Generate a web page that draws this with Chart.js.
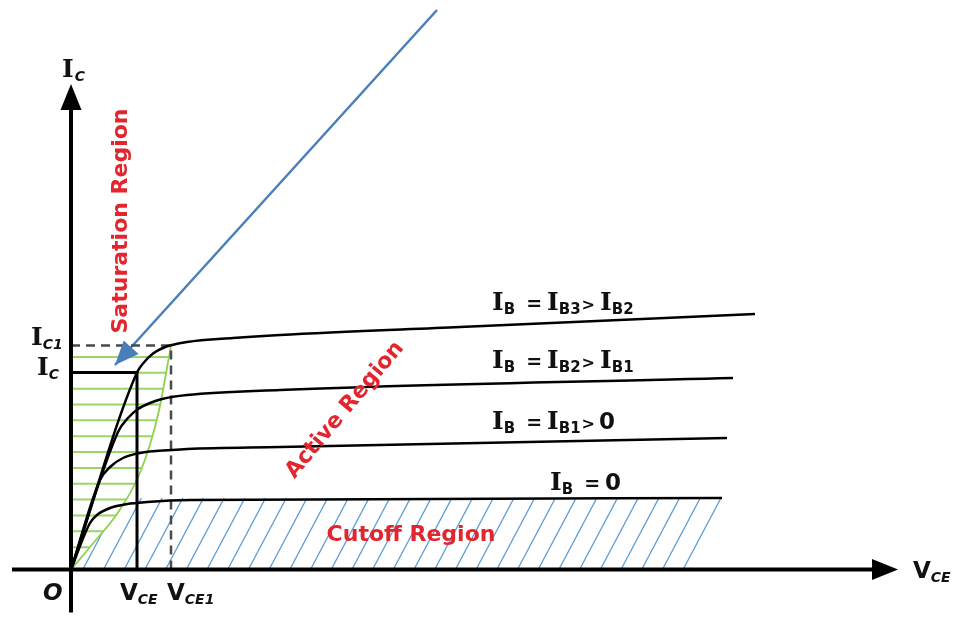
<!DOCTYPE html>
<html>
<head>
<meta charset="utf-8">
<script src="https://cdn.jsdelivr.net/npm/chart.js@4"></script>
<style>body{margin:0;background:#fff}</style>
</head>
<body>
<canvas id="bjt" width="956" height="629"></canvas>
<script>
// BJT output characteristics: V_CE on x, I_C on y (arbitrary units)
const curveIB0 = [[0,0],[1.9,4.65],[2.6,5.45],[3.9,6.15],[5.6,6.55],[7.6,6.75],[11.9,6.95],[65.1,7.15]];
const curveIB1 = [[0,0],[2.9,8.95],[3.9,10.25],[5.2,11.15],[6.9,11.65],[10.1,11.95],[11.6,12.05],[20.9,12.25],[65.6,13.15]];
const curveIB2 = [[0,0],[4.7,13.75],[5.7,15.15],[6.7,16.05],[7.9,16.65],[9.1,17.05],[11.6,17.45],[20.9,17.95],[66.2,19.15]];
const curveIB3 = [[0,0],[6.6,19.7],[7.2,20.6],[8.2,21.6],[9.3,22.2],[10.1,22.45],[11.6,22.75],[16.2,23.15],[20.9,23.45],[38.9,24.25],[68.4,25.55]];
const satEdge = [[0,0],[2.2,2.6],[4.7,5.7],[6.6,9.0],[7.9,12.5],[8.8,15.9],[9.5,19.6],[10.0,22.4]];

// operating points
const vCE = 6.6, iC = 19.7;
const vCE1 = 10.0, iC1 = 22.4;
// cutoff band (top of I_B = 0 line, right end)
const iCutoff = 7.15, cutoffEnd = 65.0;

// axes and pointer arrow
const xAxisLine = [[-5.9,0],[80.1,0]];
const yAxisLine = [[0,-4.3],[0,45.95]];
const pointerLine = [[36.6,55.95],[4.4,20.45]];

const xMin = -7.1, xMax = 88.5, yMin = -5.95, yMax = 56.95;

const toXY = arr => arr.map(p => ({x: p[0], y: p[1]}));
const RED = '#e3252d';
const fI = 'bold 25px "DejaVu Serif"';
const fMain = 'bold 23px "DejaVu Sans"';
const fOp = 'bold 19px "DejaVu Sans"';
const fGt = 'bold 16px "DejaVu Sans"';
const fSub = 'bold 15px "DejaVu Sans"';
const fSubI = 'italic bold 14px "DejaVu Sans"';
const fRed = 'bold 22px "DejaVu Sans"';

function curve(data) {
  return {data: toXY(data), borderColor: '#000', borderWidth: 2.5, cubicInterpolationMode: 'monotone'};
}

const datasets = [
  {data: toXY(xAxisLine), borderColor: '#000', borderWidth: 4},
  {data: toXY(yAxisLine), borderColor: '#000', borderWidth: 4},
  curve(curveIB0), curve(curveIB1), curve(curveIB2), curve(curveIB3),
  {data: toXY([[0,iC],[vCE,iC],[vCE,0]]), borderColor: '#000', borderWidth: 3},
  {data: toXY([[0,iC1],[vCE1,iC1],[vCE1,0]]), borderColor: '#4a4a4a', borderWidth: 2.5, borderDash: [9,6]},
  {data: toXY(pointerLine), borderColor: '#4a7ebb', borderWidth: 2.5},
  {data: toXY(satEdge), borderColor: '#8fd14f', borderWidth: 1.8, cubicInterpolationMode: 'monotone'}
];
const EDGE = datasets.length - 1;

function px(chart, x, y) {
  return [chart.scales.x.getPixelForValue(x), chart.scales.y.getPixelForValue(y)];
}

function head(ctx, tip, ux, uy, len, half, color) {
  const bx = tip[0] - ux * len, by = tip[1] - uy * len;
  ctx.beginPath();
  ctx.moveTo(tip[0], tip[1]);
  ctx.lineTo(bx - uy * half, by + ux * half);
  ctx.lineTo(bx + uy * half, by - ux * half);
  ctx.closePath();
  ctx.fillStyle = color;
  ctx.fill();
}

function rich(ctx, x, y, runs) {
  ctx.textAlign = 'left';
  ctx.textBaseline = 'alphabetic';
  ctx.fillStyle = '#111';
  for (const [t, font, dy = 0, gap = 0] of runs) {
    ctx.font = font;
    x += gap;
    ctx.fillText(t, x, y + dy);
    x += ctx.measureText(t).width;
  }
}

function label(ctx, chart, text, x, y, rot) {
  const [cx, cy] = px(chart, x, y);
  ctx.save();
  ctx.translate(cx, cy);
  ctx.rotate(rot * Math.PI / 180);
  ctx.font = fRed;
  ctx.fillStyle = RED;
  ctx.textAlign = 'center';
  ctx.textBaseline = 'middle';
  ctx.fillText(text, 0, 0);
  ctx.restore();
}

const hatching = {
  id: 'hatching',
  beforeDatasetsDraw(chart) {
    const ctx = chart.ctx;
    const edge = chart.getDatasetMeta(EDGE).dataset;
    const [x0, y0] = px(chart, 0, 0);
    const yTop = px(chart, 0, iC1)[1];

    // saturation region: horizontal green lines
    ctx.save();
    ctx.beginPath();
    edge.path(ctx);
    ctx.lineTo(x0, yTop);
    ctx.closePath();
    ctx.clip();
    ctx.strokeStyle = '#9ad565';
    ctx.lineWidth = 2;
    for (let y = y0 - 6.5; y > yTop + 4; y -= 15.85) {
      ctx.beginPath();
      ctx.moveTo(x0, y);
      ctx.lineTo(x0 + 200, y);
      ctx.stroke();
    }
    ctx.restore();

    // cutoff region: slanted blue lines
    const [xr, yc] = px(chart, cutoffEnd, iCutoff);
    const run = (y0 - yc) * 0.53;
    ctx.save();
    ctx.beginPath();
    ctx.moveTo(x0, y0);
    ctx.lineTo(x0, yc);
    ctx.lineTo(xr + 1.5, yc);
    ctx.lineTo(xr - run + 1.5, y0);
    ctx.closePath();
    ctx.clip();
    ctx.beginPath();
    ctx.rect(0, 0, chart.width, chart.height);
    edge.path(ctx);
    ctx.lineTo(x0, yTop);
    ctx.closePath();
    ctx.clip('evenodd');
    ctx.strokeStyle = '#5b9bd5';
    ctx.lineWidth = 1.3;
    for (let x = xr; x > x0 - run; x -= 20.7) {
      ctx.beginPath();
      ctx.moveTo(x, yc);
      ctx.lineTo(x - run, y0);
      ctx.stroke();
    }
    ctx.restore();
  },
  afterDatasetsDraw(chart) {
    const ctx = chart.ctx;
    // arrow heads
    head(ctx, (p => [p[0] + 26, p[1]])(px(chart, ...xAxisLine[1])), 1, 0, 26, 10.5, '#000');
    head(ctx, (p => [p[0], p[1] - 26])(px(chart, ...yAxisLine[1])), 0, -1, 26, 10.5, '#000');
    const a = px(chart, ...pointerLine[0]), b = px(chart, ...pointerLine[1]);
    const d = Math.hypot(b[0] - a[0], b[1] - a[1]);
    head(ctx, b, (b[0] - a[0]) / d, (b[1] - a[1]) / d, 24, 10, '#4a7ebb');

    // axis labels
    let p;
    p = px(chart, -0.9, 49.25); rich(ctx, p[0], p[1], [['I', fI], ['C', fSubI, 4, 1]]);
    p = px(chart, 84.2, -0.85); rich(ctx, p[0], p[1], [['V', fMain], ['CE', fSubI, 4]]);
    p = px(chart, -2.8, -3.05); rich(ctx, p[0], p[1], [['O', 'italic ' + fMain]]);
    p = px(chart, 4.9, -3.05); rich(ctx, p[0], p[1], [['V', fMain], ['CE', fSubI, 4]]);
    p = px(chart, 9.6, -3.05); rich(ctx, p[0], p[1], [['V', fMain], ['CE1', fSubI, 4]]);
    p = px(chart, -4.0, 22.45); rich(ctx, p[0], p[1], [['I', fI], ['C1', fSubI, 4]]);
    p = px(chart, -3.4, 19.45); rich(ctx, p[0], p[1], [['I', fI], ['C', fSubI, 4]]);

    // base current labels
    p = px(chart, 42.1, 25.95);
    rich(ctx, p[0], p[1], [['I', fI], ['B', fSub, 4], ['=', fOp, 0, 11], ['I', fI, 0, 5], ['B3', fSub, 4], ['>', fGt, 0, 1], ['I', fI, 0, 5], ['B2', fSub, 4]]);
    p = px(chart, 42.1, 20.15);
    rich(ctx, p[0], p[1], [['I', fI], ['B', fSub, 4], ['=', fOp, 0, 11], ['I', fI, 0, 5], ['B2', fSub, 4], ['>', fGt, 0, 1], ['I', fI, 0, 5], ['B1', fSub, 4]]);
    p = px(chart, 42.1, 14.05);
    rich(ctx, p[0], p[1], [['I', fI], ['B', fSub, 4], ['=', fOp, 0, 11], ['I', fI, 0, 5], ['B1', fSub, 4], ['>', fGt, 0, 1], ['0', fMain, 0, 4]]);
    p = px(chart, 47.9, 7.95);
    rich(ctx, p[0], p[1], [['I', fI], ['B', fSub, 4], ['=', fOp, 0, 11], ['0', fMain, 0, 5]]);

    // region names
    label(ctx, chart, 'Saturation Region', 5.0, 34.85, -90);
    label(ctx, chart, 'Active Region', 27.4, 15.95, -50);
    label(ctx, chart, 'Cutoff Region', 34.0, 3.45, 0);
  }
};

new Chart(document.getElementById('bjt'), {
  type: 'line',
  data: {datasets},
  options: {
    responsive: false,
    animation: false,
    layout: {padding: 0},
    plugins: {legend: {display: false}, tooltip: {enabled: false}},
    elements: {point: {radius: 0}, line: {tension: 0}},
    scales: {
      x: {type: 'linear', min: xMin, max: xMax, display: false},
      y: {type: 'linear', min: yMin, max: yMax, display: false}
    }
  },
  plugins: [hatching]
});
</script>
</body>
</html>
